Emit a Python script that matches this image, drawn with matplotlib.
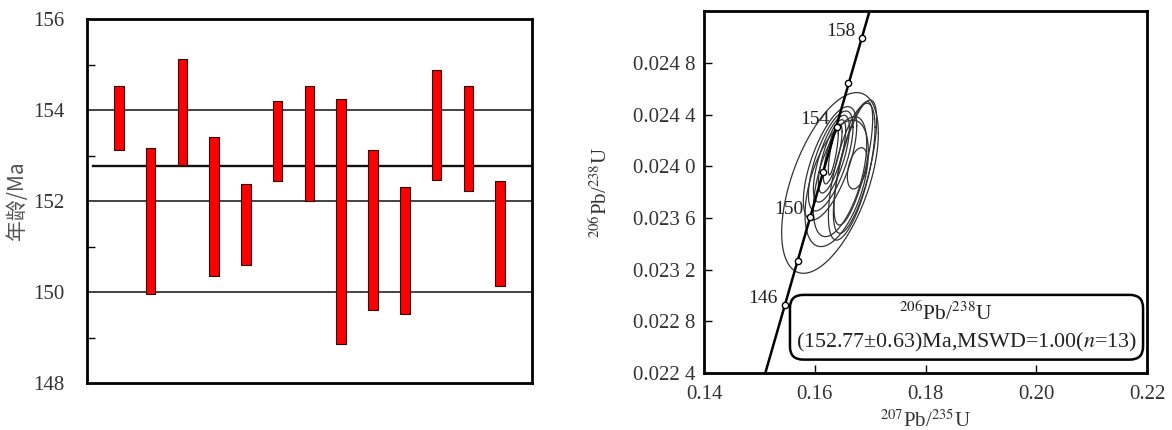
import matplotlib
matplotlib.use('Agg')
import matplotlib.pyplot as plt
import numpy as np
from matplotlib.patches import FancyBboxPatch

plt.rcParams['font.family'] = ['Liberation Serif', 'DejaVu Serif']
plt.rcParams['mathtext.fontset'] = 'stix'

# left panel: 206Pb/238U age ranges of the 13 spots (Ma)
spot = np.arange(1, 14)
age_low = [153.13, 149.96, 152.80, 150.35, 150.60, 152.44, 151.99,
           148.85, 149.60, 149.52, 152.46, 152.22, 150.14]
age_high = [154.53, 153.17, 155.13, 153.41, 152.37, 154.20, 154.53,
            154.24, 153.13, 152.31, 154.89, 154.52, 152.44]
mean_age = 152.77
ref_lines = [150, 152, 154]

# right panel: concordia ticks (age, 207/235, 206/238)
conc_age = [158, 156, 154, 152, 150, 148, 146]
conc_x = [0.16858, 0.16598, 0.16393, 0.16154, 0.15915, 0.15696, 0.15456]
conc_y = [0.024994, 0.024648, 0.024306, 0.023954, 0.023612, 0.023268, 0.022924]
conc_labeled = [158, 154, 150, 146]

# error ellipses: centre x, centre y, half width, half height, correlation
ell_x = [0.16275, 0.16727, 0.16697, 0.16667, 0.16769, 0.16396, 0.16456,
         0.16335, 0.16324, 0.16312, 0.16300, 0.16288, 0.16276]
ell_y = [0.023872, 0.023998, 0.024024, 0.023959, 0.023985, 0.023869, 0.023921,
         0.024114, 0.024096, 0.024078, 0.024060, 0.024042, 0.024024]
ell_ax = [0.00873, 0.00391, 0.00349, 0.00421, 0.00181, 0.00572, 0.00482,
          0.00090, 0.00169, 0.00247, 0.00325, 0.00403, 0.00482]
ell_ay = [0.000700, 0.000516, 0.000478, 0.000530, 0.000160, 0.000490, 0.000465,
          0.000181, 0.000232, 0.000284, 0.000336, 0.000387, 0.000439]
ell_rho = [0.55, 0.70, 0.72, 0.65, 0.40, 0.50, 0.55,
           0.78, 0.75, 0.72, 0.70, 0.68, 0.66]

xticks_r = [0.14, 0.16, 0.18, 0.20, 0.22]
xticklabels_r = ['0.14', '0.16', '0.18', '0.20', '0.22']
yticks_r = [0.0224, 0.0228, 0.0232, 0.0236, 0.0240, 0.0244, 0.0248]
yticklabels_r = ['0.022 4', '0.022 8', '0.023 2', '0.023 6', '0.024 0', '0.024 4', '0.024 8']

fig = plt.figure(figsize=(11.72, 4.30), dpi=100)

# ---- left: age bar plot ----
ax1 = fig.add_axes([0.0742, 0.1093, 0.3797, 0.8465])
for v in ref_lines:
    ax1.axhline(v, color='#222222', lw=1.2, zorder=1)
ax1.axhline(mean_age, xmin=0.014, color='#111111', lw=1.7, zorder=1)
ax1.bar(spot, np.array(age_high) - np.array(age_low), bottom=age_low, width=0.3,
        color='#ff0000', edgecolor='#330000', lw=0.8, zorder=2)
ax1.set_xlim(0, 14)
ax1.set_ylim(148, 156)
ax1.set_xticks([])
ax1.set_yticks([148, 150, 152, 154, 156])
ax1.set_yticks([149, 151, 153, 155], minor=True)
ax1.tick_params(axis='y', which='major', length=0, pad=16, labelsize=15, labelcolor='#333333')
ax1.tick_params(axis='y', which='minor', direction='in', length=6, width=1.0)
for s in ax1.spines.values():
    s.set_linewidth(2.0)
ax1.set_ylabel('年龄/Ma', family=['Noto Sans CJK SC', 'DejaVu Sans'], fontsize=15,
               color='#555555')
ax1.yaxis.set_label_coords(-0.133, 0.5)

# ---- right: concordia diagram ----
ax2 = fig.add_axes([0.6007, 0.1326, 0.378, 0.8407])
ax2.set_xlim(0.14, 0.22)
ax2.set_ylim(0.0224, 0.0252)

t = np.linspace(0, 2 * np.pi, 200)
for cx, cy, a, b, r in zip(ell_x, ell_y, ell_ax, ell_ay, ell_rho):
    ex = cx + a * np.cos(t)
    ey = cy + b * (r * np.cos(t) + np.sqrt(1 - r ** 2) * np.sin(t))
    ax2.plot(ex, ey, color='#333333', lw=0.9, zorder=2)

# concordia line through the tick marks, run to the frame
k, c = np.polyfit(conc_y, conc_x, 1)
ly = np.array([0.0224, 0.0252])
ax2.plot(k * ly + c, ly, color='black', lw=1.8, zorder=3)
ax2.plot(conc_x, conc_y, 'o', ms=4.5, mfc='white', mec='black', mew=1.0, zorder=4)
for age, x, y in zip(conc_age, conc_x, conc_y):
    if age in conc_labeled:
        ax2.annotate(str(age), (x, y), xytext=(-5, 5), textcoords='offset points',
                     ha='right', va='center', fontsize=14, color='#222222', zorder=5)

ax2.set_xticks(xticks_r)
ax2.set_xticklabels(xticklabels_r)
ax2.set_yticks(yticks_r)
ax2.set_yticklabels(yticklabels_r)
ax2.tick_params(direction='in', length=6, width=1.0, labelsize=15, labelcolor='#333333')
ax2.tick_params(axis='x', pad=9)
ax2.tick_params(axis='y', pad=6)
for s in ax2.spines.values():
    s.set_linewidth(2.0)
ax2.set_xlabel(r'$^{207}$Pb/$^{235}$U', fontsize=15, color='#333333', labelpad=4)
ax2.set_ylabel(r'$^{206}$Pb/$^{238}$U', fontsize=15, color='#333333', labelpad=15)

box = FancyBboxPatch((0.194, 0.037), 0.797, 0.179, transform=ax2.transAxes,
                     boxstyle='round,pad=0,rounding_size=0.03', fc='white',
                     ec='black', lw=1.8, zorder=6, mutation_aspect=1.2)
ax2.add_patch(box)
ax2.text(0.545, 0.165, r'$^{206}$Pb/$^{238}$U', transform=ax2.transAxes, ha='center',
         va='center', fontsize=15.5, color='#222222', zorder=7)
ax2.text(0.593, 0.085, r'(152.77±0.63)Ma,MSWD=1.00($\it{n}$=13)', transform=ax2.transAxes,
         ha='center', va='center', fontsize=15.8, color='#222222', zorder=7)

fig.savefig('out.png', dpi=100)
